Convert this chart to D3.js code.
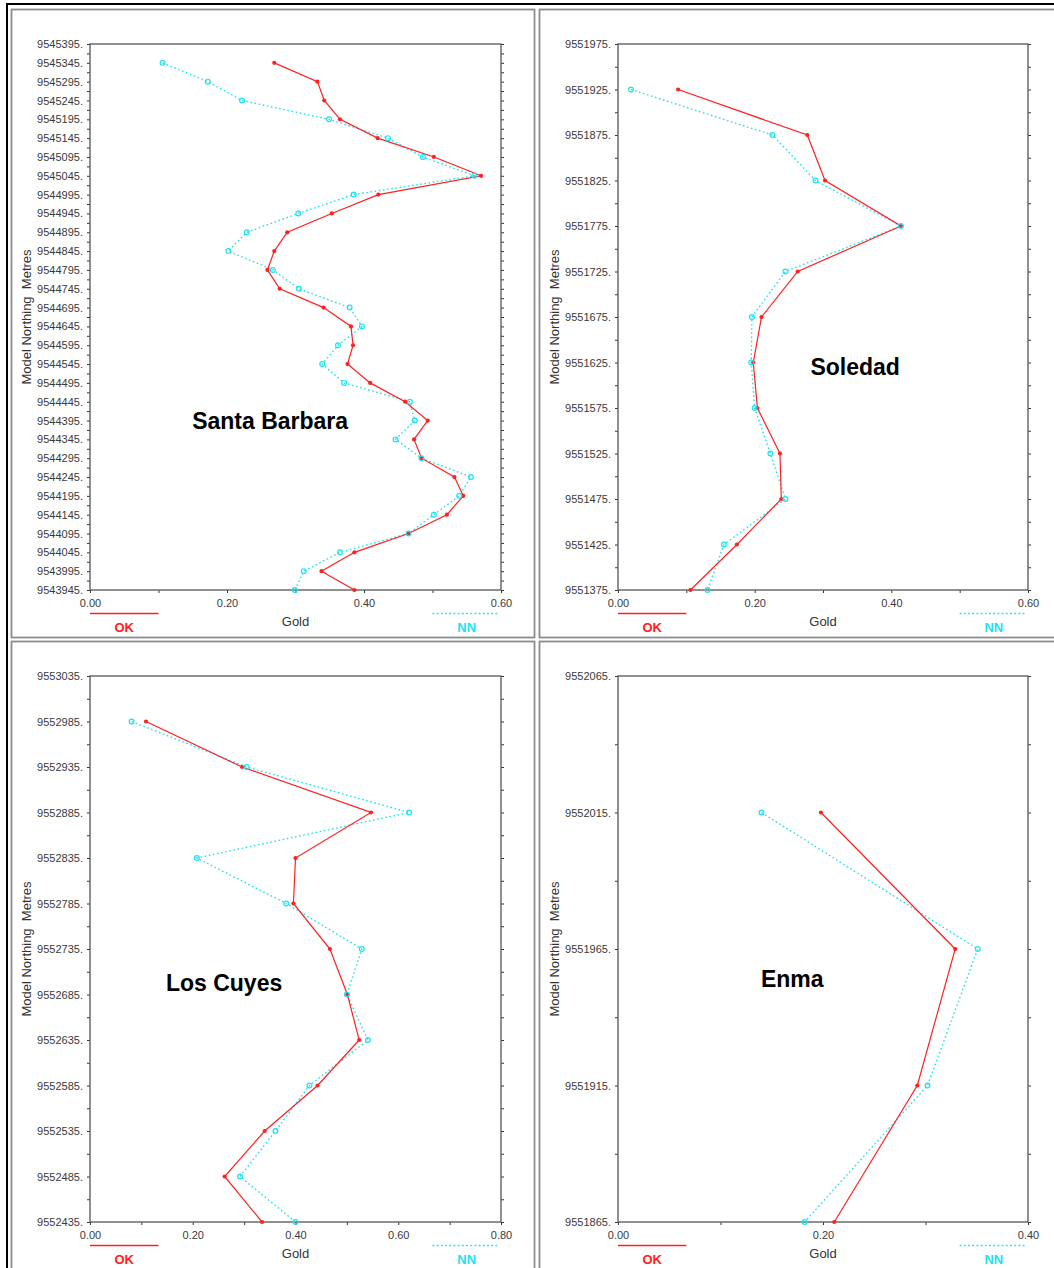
<!DOCTYPE html>
<html>
<head>
<meta charset="utf-8">
<script src="https://cdn.jsdelivr.net/npm/d3@7"></script>
<style>
body { margin: 0; background: #fff; }
svg { display: block; font-family: "Liberation Sans", Arial, Helvetica, sans-serif; }
</style>
</head>
<body>
<div id="chart"></div>
<script>
// Santa Barbara
const sbNorthing = [9545345, 9545295, 9545245, 9545195, 9545145, 9545095, 9545045, 9544995, 9544945, 9544895,
    9544845, 9544795, 9544745, 9544695, 9544645, 9544595, 9544545, 9544495, 9544445, 9544395,
    9544345, 9544295, 9544245, 9544195, 9544145, 9544095, 9544045, 9543995, 9543945];
const sbOK = [0.269, 0.332, 0.342, 0.365, 0.420, 0.502, 0.571, 0.421, 0.353, 0.288,
    0.269, 0.259, 0.277, 0.341, 0.381, 0.384, 0.376, 0.409, 0.460, 0.493,
    0.473, 0.484, 0.532, 0.545, 0.521, 0.465, 0.386, 0.338, 0.386];
const sbNN = [0.106, 0.172, 0.222, 0.349, 0.435, 0.486, 0.561, 0.385, 0.304, 0.229,
    0.202, 0.267, 0.305, 0.379, 0.397, 0.362, 0.339, 0.371, 0.467, 0.474,
    0.446, 0.484, 0.556, 0.539, 0.502, 0.465, 0.365, 0.312, 0.299];
const sbYDomain = [9543945, 9545395];
const sbXMax = 0.6;

// Soledad
const soNorthing = [9551925, 9551875, 9551825, 9551775, 9551725, 9551675, 9551625, 9551575, 9551525, 9551475, 9551425, 9551375];
const soOK = [0.088, 0.277, 0.303, 0.414, 0.263, 0.210, 0.198, 0.204, 0.237, 0.239, 0.174, 0.106];
const soNN = [0.019, 0.226, 0.289, 0.414, 0.245, 0.196, 0.195, 0.200, 0.223, 0.245, 0.155, 0.131];
const soYDomain = [9551375, 9551975];
const soXMax = 0.6;

// Los Cuyes
const lcNorthing = [9552985, 9552935, 9552885, 9552835, 9552785, 9552735, 9552685, 9552635, 9552585, 9552535, 9552485, 9552435];
const lcOK = [0.109, 0.296, 0.547, 0.400, 0.396, 0.467, 0.501, 0.524, 0.443, 0.340, 0.262, 0.335];
const lcNN = [0.081, 0.305, 0.621, 0.208, 0.382, 0.529, 0.500, 0.541, 0.427, 0.361, 0.292, 0.400];
const lcYDomain = [9552435, 9553035];
const lcXMax = 0.8;

// Enma
const enNorthing = [9552015, 9551965, 9551915, 9551865];
const enOK = [0.198, 0.329, 0.292, 0.211];
const enNN = [0.140, 0.351, 0.302, 0.182];
const enYDomain = [9551865, 9552065];
const enXMax = 0.4;

const okColor = "#ff2020";
const nnColor = "#1ee2f0";

// box = panel border [x, y, w, h], plot = [x0, y0, x1, y1], label anchor in data units
const panels = [
    {name: "Santa Barbara", northing: sbNorthing, ok: sbOK, nn: sbNN, yDomain: sbYDomain, xMax: sbXMax,
        box: [11.5, 9.5, 523, 628], plot: [90, 44, 501, 590], label: [0.263, 9544395]},
    {name: "Soledad", northing: soNorthing, ok: soOK, nn: soNN, yDomain: soYDomain, xMax: soXMax,
        box: [539.5, 9.5, 530, 628], plot: [618, 44, 1028, 590], label: [0.347, 9551620]},
    {name: "Los Cuyes", northing: lcNorthing, ok: lcOK, nn: lcNN, yDomain: lcYDomain, xMax: lcXMax,
        box: [11.5, 641.5, 523, 640], plot: [90, 676, 501, 1222], label: [0.261, 9552698]},
    {name: "Enma", northing: enNorthing, ok: enOK, nn: enNN, yDomain: enYDomain, xMax: enXMax,
        box: [539.5, 641.5, 530, 640], plot: [618, 676, 1028, 1222], label: [0.170, 9551954]}
];

const svg = d3.select("#chart").append("svg")
    .attr("width", 1054)
    .attr("height", 1268);

svg.append("rect").attr("width", 1054).attr("height", 1268).attr("fill", "#fff");

// outer black frame (right/bottom fall off the page)
svg.append("rect")
    .attr("x", 7).attr("y", 4)
    .attr("width", 1100).attr("height", 1300)
    .attr("fill", "none")
    .attr("stroke", "#000")
    .attr("stroke-width", 2);

function styleAxis(sel) {
    sel.select(".domain").remove();
    sel.selectAll(".tick line").attr("stroke", "#333").attr("stroke-width", 1);
    sel.selectAll(".tick text")
        .attr("fill", "#3a3a3a")
        .style("font-size", "11px")
        .style("font-family", "'Liberation Sans', Arial, sans-serif");
}

function drawPanel(p) {
    const g = svg.append("g").attr("class", "panel");
    const [x0, y0, x1, y1] = p.plot;
    const w = x1 - x0;

    g.append("rect")
        .attr("x", p.box[0]).attr("y", p.box[1])
        .attr("width", p.box[2]).attr("height", p.box[3])
        .attr("fill", "none")
        .attr("stroke", "#8c8c8c")
        .attr("stroke-width", 1.8);

    const x = d3.scaleLinear().domain([0, p.xMax]).range([x0, x1]);
    const y = d3.scaleLinear().domain(p.yDomain).range([y1, y0]);

    const yTicks = d3.range(p.yDomain[0], p.yDomain[1] + 1, 25);
    const xTicks = d3.range(0, Math.round(p.xMax * 10) + 1).map(i => i / 10);

    const yFmt = d => ((d - p.yDomain[0]) % 50 === 0 ? d + "." : "");
    const xFmt = d => (Math.round(d * 10) % 2 === 0 ? d3.format(".2f")(d) : "");

    g.append("g")
        .attr("transform", `translate(${x0},0)`)
        .call(d3.axisLeft(y).tickValues(yTicks).tickSize(3).tickPadding(4).tickFormat(yFmt))
        .call(styleAxis);

    g.append("g")
        .attr("transform", `translate(${x1},0)`)
        .call(d3.axisRight(y).tickValues(yTicks).tickSize(3).tickFormat(""))
        .call(styleAxis);

    g.append("g")
        .attr("transform", `translate(0,${y1})`)
        .call(d3.axisBottom(x).tickValues(xTicks).tickSize(3).tickPadding(6).tickFormat(xFmt))
        .call(styleAxis);

    g.append("rect")
        .attr("x", x0).attr("y", y0)
        .attr("width", w).attr("height", y1 - y0)
        .attr("fill", "none")
        .attr("stroke", "#616161")
        .attr("stroke-width", 1.4);

    const okPts = p.northing.map((n, i) => ({n: n, v: p.ok[i]}));
    const nnPts = p.northing.map((n, i) => ({n: n, v: p.nn[i]}));
    const line = d3.line().x(d => x(d.v)).y(d => y(d.n));

    g.append("path")
        .attr("d", line(nnPts))
        .attr("fill", "none")
        .attr("stroke", nnColor)
        .attr("stroke-width", 1.4)
        .attr("stroke-dasharray", "1.6,2.6");

    g.append("path")
        .attr("d", line(okPts))
        .attr("fill", "none")
        .attr("stroke", okColor)
        .attr("stroke-width", 1.2);

    g.selectAll(".okdot").data(okPts).join("circle")
        .attr("class", "okdot")
        .attr("cx", d => x(d.v)).attr("cy", d => y(d.n))
        .attr("r", 2.1)
        .attr("fill", okColor);

    g.selectAll(".nndot").data(nnPts).join("circle")
        .attr("class", "nndot")
        .attr("cx", d => x(d.v)).attr("cy", d => y(d.n))
        .attr("r", 2.4)
        .attr("fill", "none")
        .attr("stroke", nnColor)
        .attr("stroke-width", 1.2);

    // site name
    g.append("text")
        .attr("x", x(p.label[0]))
        .attr("y", y(p.label[1]))
        .attr("dy", "0.36em")
        .attr("text-anchor", "middle")
        .style("font-size", "23px")
        .style("font-weight", "bold")
        .attr("fill", "#000")
        .text(p.name);

    // y title
    g.append("text")
        .attr("transform", `translate(${x0 - 59},${(y0 + y1) / 2}) rotate(-90)`)
        .attr("text-anchor", "middle")
        .style("font-size", "13px")
        .style("white-space", "pre")
        .attr("fill", "#333")
        .text("Model Northing  Metres");

    // x title
    g.append("text")
        .attr("x", (x0 + x1) / 2)
        .attr("y", y1 + 36)
        .attr("text-anchor", "middle")
        .style("font-size", "13px")
        .attr("fill", "#333")
        .text("Gold");

    // legend
    const ly = y1 + 23.5;
    g.append("line")
        .attr("x1", x0).attr("x2", x0 + w / 6)
        .attr("y1", ly).attr("y2", ly)
        .attr("stroke", okColor).attr("stroke-width", 1.5);
    g.append("text")
        .attr("x", x0 + w / 12).attr("y", y1 + 41.5)
        .attr("text-anchor", "middle")
        .style("font-size", "13px").style("font-weight", "bold")
        .attr("fill", okColor)
        .text("OK");

    g.append("line")
        .attr("x1", x1 - w / 6).attr("x2", x1 - 3)
        .attr("y1", ly).attr("y2", ly)
        .attr("stroke", nnColor).attr("stroke-width", 1.6)
        .attr("stroke-dasharray", "1.8,2.4");
    g.append("text")
        .attr("x", x1 - w / 12).attr("y", y1 + 41.5)
        .attr("text-anchor", "middle")
        .style("font-size", "13px").style("font-weight", "bold")
        .attr("fill", nnColor)
        .text("NN");
}

panels.forEach(drawPanel);
</script>
</body>
</html>
